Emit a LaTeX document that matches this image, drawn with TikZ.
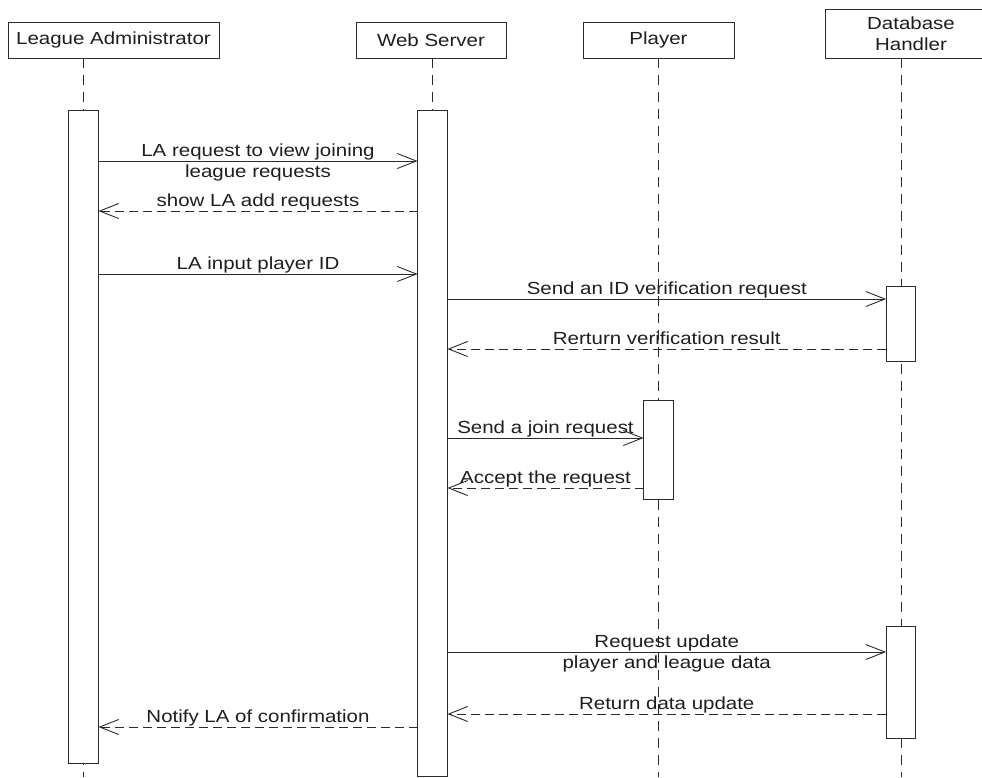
\documentclass[tikz,border=0pt]{standalone}
\usepackage{fontspec}
\setmainfont{Liberation Sans}[FakeStretch=1.17]
\usetikzlibrary{arrows.meta}
\definecolor{ink}{HTML}{2A2A2A}
\definecolor{txt}{HTML}{1E1E1E}
\begin{document}
\begin{tikzpicture}[x=1pt,y=-1pt,
  txtfont/.style={font=\fontsize{17.5}{21}\selectfont, text=txt},
  head/.style={draw=ink, line width=0.9pt, fill=white, inner sep=0pt, align=center, txtfont},
  act/.style={draw=ink, line width=0.9pt, fill=white, inner sep=0pt, minimum width=29.5pt},
  life/.style={draw=ink, line width=0.9pt, dash pattern=on 10pt off 7pt},
  call/.style={draw=ink, line width=0.9pt, -{Straight Barb[length=19pt,width=15pt,line width=0.9pt]}},
  reply/.style={call, dash pattern=on 9pt off 5pt},
  lbl/.style={txtfont, midway, anchor=base, align=center, inner sep=0pt, yshift=5pt},
  lbltwo/.style={lbl, yshift=-21pt}]
\useasboundingbox (0,0) rectangle (982,777);
\coordinate (bot) at (0,777);

% participant heads
\node[head, minimum width=211pt, minimum height=36pt] (laH) at (113.5,40) {League Administrator};
\node[head, minimum width=150pt, minimum height=36pt] (wsH) at (431,40) {Web Server};
\node[head, minimum width=151pt, minimum height=36pt] (plH) at (658.5,40) {Player};
\node[head, minimum width=172pt, minimum height=49pt] (dbH) at (911,33.5) {Database\\Handler};

% activation bars (placed first so lifelines can refer to them)
\path
  node[minimum width=29.5pt, minimum height=653pt, inner sep=0pt] (laA) at (83.5,436.5) {}
  node[minimum width=29.5pt, minimum height=666pt, inner sep=0pt] (wsA) at (432.5,443) {}
  node[minimum width=29.5pt, minimum height=99pt, inner sep=0pt] (plA) at (658.5,449.5) {}
  node[minimum width=29.5pt, minimum height=75pt, inner sep=0pt] (dbA) at (901,323.5) {}
  node[minimum width=29.5pt, minimum height=112pt, inner sep=0pt] (dbB) at (901,682) {};

% lifelines
\draw[life] (laA.north |- laH.south) -- (laA.north |- bot);
\draw[life] (wsA.north |- wsH.south) -- (wsA.north |- bot);
\draw[life] (plA.north |- plH.south) -- (plA.north |- bot);
\draw[life] (dbA.north |- dbH.south) -- (dbA.north |- bot);

% activation boxes drawn over the lifelines
\node[act, minimum height=653pt] at (laA) {};
\node[act, minimum height=666pt] at (wsA) {};
\node[act, minimum height=99pt] at (plA) {};
\node[act, minimum height=75pt] at (dbA) {};
\node[act, minimum height=112pt] at (dbB) {};

% messages
\draw[call] (laA.east |- 0,161) -- (wsA.west |- 0,161)
  node[lbltwo] {LA request to view joining\\league requests};
\draw[reply] (wsA.west |- 0,211) -- (laA.east |- 0,211)
  node[lbl] {show LA add requests};
\draw[call] (laA.east |- 0,274) -- (wsA.west |- 0,274)
  node[lbl] {LA input player ID};
\draw[call] (wsA.east |- 0,299) -- (dbA.west |- 0,299)
  node[lbl] {Send an ID verification request};
\draw[reply] (dbA.west |- 0,349) -- (wsA.east |- 0,349)
  node[lbl] {Rerturn verification result};
\draw[call] (wsA.east |- 0,438) -- (plA.west |- 0,438)
  node[lbl] {Send a join request};
\draw[reply] (plA.west |- 0,488) -- (wsA.east |- 0,488)
  node[lbl] {Accept the request};
\draw[call] (wsA.east |- 0,652) -- (dbB.west |- 0,652)
  node[lbltwo] {Request update\\player and league data};
\draw[reply] (dbB.west |- 0,714) -- (wsA.east |- 0,714)
  node[lbl] {Return data update};
\draw[reply] (wsA.west |- 0,727) -- (laA.east |- 0,727)
  node[lbl] {Notify LA of confirmation};
\end{tikzpicture}
\end{document}
